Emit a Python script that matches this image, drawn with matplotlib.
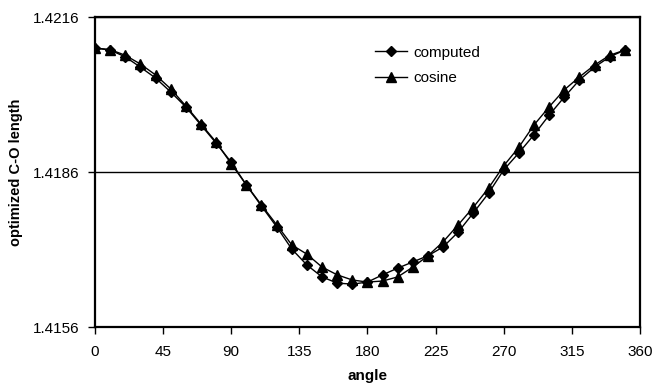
import matplotlib
matplotlib.use("Agg")
import matplotlib.pyplot as plt

angles = list(range(0, 360, 10))
computed = [1.42100, 1.42096, 1.42083, 1.42063, 1.42042, 1.42015, 1.41986, 1.41951,
            1.41916, 1.41879, 1.41835, 1.41794, 1.41754, 1.41711, 1.41680, 1.41657,
            1.41645, 1.41643, 1.41647, 1.41661, 1.41674, 1.41686, 1.41698, 1.41715,
            1.41744, 1.41781, 1.41819, 1.41864, 1.41897, 1.41932, 1.41970, 1.42005,
            1.42038, 1.42063, 1.42083, 1.42096]
cosine = [1.42100, 1.42097, 1.42086, 1.42069, 1.42048, 1.42021, 1.41988, 1.41953,
          1.41918, 1.41876, 1.41835, 1.41796, 1.41758, 1.41719, 1.41701, 1.41676,
          1.41661, 1.41651, 1.41647, 1.41649, 1.41657, 1.41676, 1.41698, 1.41725,
          1.41758, 1.41792, 1.41829, 1.41872, 1.41908, 1.41951, 1.41986, 1.42019,
          1.42044, 1.42067, 1.42086, 1.42096]
xticks = [0, 45, 90, 135, 180, 225, 270, 315, 360]
yticks = [1.4156, 1.4186, 1.4216]
ytick_labels = ["1.4156", "1.4186", "1.4216"]

plt.rcParams['font.family'] = ['Liberation Sans', 'DejaVu Sans']

fig = plt.figure(figsize=(6.55, 3.87), dpi=100)
ax = fig.add_axes([0.145, 0.155, 0.832, 0.801])

ax.plot(angles, computed, color='black', lw=1.0, marker='D', ms=5.5, label='computed')
ax.plot(angles, cosine, color='black', lw=1.0, marker='^', ms=7, label='cosine')

ax.set_xlim(0, 360)
ax.set_ylim(1.4156, 1.4216)
ax.set_xticks(xticks)
ax.set_xticklabels([str(t) for t in xticks])
ax.set_yticks(yticks)
ax.set_yticklabels(ytick_labels)
ax.yaxis.grid(True, color='black', lw=1.0)
ax.set_axisbelow(True)

for s in ax.spines.values():
    s.set_linewidth(1.6)
    s.set_color('black')
ax.tick_params(axis='both', direction='out', length=5, width=1, labelsize=11,
               colors='black')
ax.tick_params(axis='x', pad=8)
ax.tick_params(axis='y', pad=6)

ax.set_xlabel('angle', fontsize=11, fontweight='bold', labelpad=7)
ax.set_ylabel('optimized C-O length', fontsize=10.5, fontweight='bold', labelpad=7)

ax.legend(loc='upper left', bbox_to_anchor=(0.503, 0.927), frameon=False, fontsize=11,
          handlelength=2.1, handletextpad=0.4, labelspacing=0.75, borderaxespad=0)

fig.savefig('out.png', dpi=100)
